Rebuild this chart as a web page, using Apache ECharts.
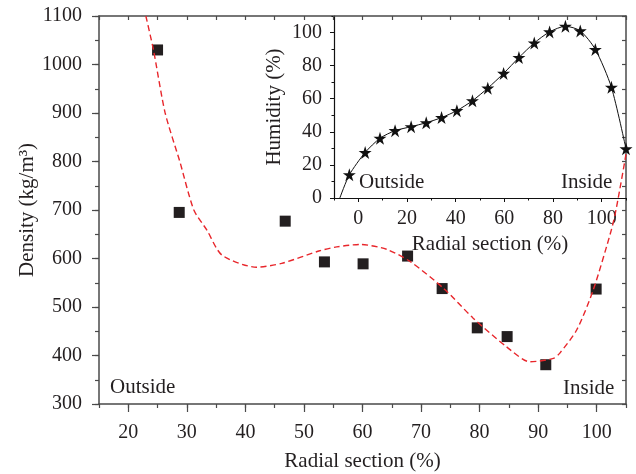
<!DOCTYPE html>
<html><head><meta charset="utf-8">
<script src="https://cdn.jsdelivr.net/npm/echarts@6/dist/echarts.min.js"></script>
<style>html,body{margin:0;padding:0;background:#fff}#c{width:636px;height:474px}</style>
</head><body><div id="c"></div>
<script>
// Main chart: measured density (squares)
const densityX = [25, 28.7, 46.8, 53.5, 60.1, 67.7, 73.6, 79.6, 84.7, 91.3, 99.9];
const densityY = [1030, 695, 677, 593, 589, 605, 538, 457, 439, 381, 537];
// Main chart: fitted trend (red dashed)
const fitX = [23.0, 24.3, 26.3, 28.8, 31.2, 33.4, 36.0, 41.9, 46.2, 52.7, 55.6, 59.6, 64.1, 68.1, 73.8, 78.9, 84.6, 88.6, 92.6, 93.7, 96.6, 99.4, 102.5, 103.4, 105.0];
const fitY = [1100, 1030, 900, 800, 700, 659, 607, 582, 590, 616, 624, 629, 619, 594, 539, 477, 418, 387, 394, 405, 453, 535, 659, 707, 815];
// Inset: humidity (stars)
const humX = [-7.6, -3.7, 2.8, 8.9, 15.1, 21.7, 27.9, 34.2, 40.5, 46.9, 53.2, 59.7, 66.0, 72.3, 78.6, 85.1, 91.2, 97.4, 104.0, 110.0];
const humY = [0, 14.0, 27.5, 36.1, 40.7, 43.1, 45.5, 48.6, 52.8, 58.8, 66.4, 75.3, 84.9, 93.7, 100.4, 103.8, 101.0, 89.8, 66.9, 29.7];
// Tick labels
const mainXTicks = [20, 30, 40, 50, 60, 70, 80, 90, 100];
const insetXTicks = [0, 20, 40, 60, 80, 100];
const insetYTicks = [0, 20, 40, 60, 80, 100];

const FONT = '"Liberation Serif", "DejaVu Serif", serif';
const TXT = '#231f20';
const AX = '#4a4a4a';
const STAR = 'path://M50,0 L61.2,34.5 L97.6,34.5 L68.2,55.9 L79.4,90.5 L50,69.1 L20.6,90.5 L31.8,55.9 L2.4,34.5 L38.8,34.5 Z';

const mainGrid = {left: 99, right: 10, top: 16, bottom: 70, outerBoundsMode: 'none', containLabel: false};
const insetGrid = {left: 334, right: 10, top: 16, bottom: 276, outerBoundsMode: 'none', containLabel: false};

const plain = (v) => String(v);
const lbl = (m) => ({color: TXT, fontFamily: FONT, fontSize: 20, margin: m, formatter: plain});
const nameStyle = {color: TXT, fontFamily: FONT, fontSize: 21};

const option = {
  animation: false,
  backgroundColor: '#fff',
  grid: [
    Object.assign({}, mainGrid),
    Object.assign({}, mainGrid),
    Object.assign({}, insetGrid),
    Object.assign({}, insetGrid)
  ],
  xAxis: [
    { // 0 main bottom
      type: 'value', gridIndex: 0, position: 'bottom', min: 15, max: 105,
      axisLine: {show: true, onZero: false, lineStyle: {color: AX, width: 1.5}},
      axisTick: {show: true, inside: false, length: 8, customValues: mainXTicks, lineStyle: {color: AX, width: 1.2}},
      axisLabel: Object.assign(lbl(19), {customValues: mainXTicks}),
      splitLine: {show: false},
      name: 'Radial section (%)', nameLocation: 'middle', nameGap: 47, nameTextStyle: nameStyle
    },
    { // 1 main top
      type: 'value', gridIndex: 0, position: 'top', min: 15, max: 105, interval: 5,
      axisLine: {show: true, onZero: false, lineStyle: {color: AX, width: 1.5}},
      axisTick: {show: true, inside: true, length: 4, lineStyle: {color: AX, width: 1.2}},
      axisLabel: {show: false}, splitLine: {show: false}
    },
    { // 2 main bottom minor
      type: 'value', gridIndex: 1, position: 'bottom', min: 15, max: 105, interval: 5,
      axisLine: {show: false, onZero: false},
      axisTick: {show: true, inside: false, length: 4, lineStyle: {color: AX, width: 1.2}},
      axisLabel: {show: false}, splitLine: {show: false}
    },
    { // 3 inset bottom
      type: 'value', gridIndex: 2, position: 'bottom', min: -10, max: 110,
      axisLine: {show: true, onZero: false, lineStyle: {color: '#111', width: 1.2}},
      axisTick: {show: true, inside: false, length: 4, customValues: insetXTicks, lineStyle: {color: '#111', width: 1}},
      axisLabel: Object.assign(lbl(11), {customValues: insetXTicks}),
      splitLine: {show: false},
      name: 'Radial section (%)', nameLocation: 'middle', nameGap: 36,
      nameTextStyle: Object.assign({}, nameStyle, {padding: [0, 0, 0, 20]})
    },
    { // 4 inset bottom minor
      type: 'value', gridIndex: 3, position: 'bottom', min: -10, max: 110, interval: 10,
      axisLine: {show: false, onZero: false},
      axisTick: {show: true, inside: false, length: 2.5, lineStyle: {color: '#111', width: 1}},
      axisLabel: {show: false}, splitLine: {show: false}
    }
  ],
  yAxis: [
    { // 0 main left
      type: 'value', gridIndex: 0, position: 'left', min: 300, max: 1100, interval: 100,
      axisLine: {show: true, onZero: false, lineStyle: {color: AX, width: 1.5}},
      axisTick: {show: true, inside: false, length: 7, lineStyle: {color: AX, width: 1.2}},
      axisLabel: lbl(17), splitLine: {show: false},
      name: 'Density (kg/m³)', nameLocation: 'middle', nameGap: 61, nameMoveOverlap: false, nameTextStyle: nameStyle
    },
    { // 1 main right
      type: 'value', gridIndex: 0, position: 'right', min: 300, max: 1100, interval: 50,
      axisLine: {show: true, onZero: false, lineStyle: {color: AX, width: 1.5}},
      axisTick: {show: true, inside: true, length: 4, lineStyle: {color: AX, width: 1.2}},
      axisLabel: {show: false}, splitLine: {show: false}
    },
    { // 2 main left minor
      type: 'value', gridIndex: 1, position: 'left', min: 300, max: 1100, interval: 50,
      axisLine: {show: false, onZero: false},
      axisTick: {show: true, inside: false, length: 4, lineStyle: {color: AX, width: 1.2}},
      axisLabel: {show: false}, splitLine: {show: false}
    },
    { // 3 inset left
      type: 'value', gridIndex: 2, position: 'left', min: 0, max: 110,
      axisLine: {show: true, onZero: false, lineStyle: {color: '#111', width: 1.2}},
      axisTick: {show: true, inside: false, length: 4, customValues: insetYTicks, lineStyle: {color: '#111', width: 1}},
      axisLabel: Object.assign(lbl(12), {customValues: insetYTicks}),
      splitLine: {show: false},
      name: 'Humidity (%)', nameLocation: 'middle', nameGap: 49, nameTextStyle: nameStyle
    },
    { // 4 inset left minor
      type: 'value', gridIndex: 3, position: 'left', min: 0, max: 110, interval: 10,
      axisLine: {show: false, onZero: false},
      axisTick: {show: true, inside: false, length: 2.5, lineStyle: {color: '#111', width: 1}},
      axisLabel: {show: false}, splitLine: {show: false}
    }
  ],
  series: [
    {
      type: 'line', xAxisIndex: 0, yAxisIndex: 0, clip: true,
      data: fitX.map((x, i) => [x, fitY[i]]),
      smooth: 0.25, symbol: 'none',
      lineStyle: {color: '#e8262b', width: 1.4, type: [6, 3.5]}
    },
    {
      type: 'scatter', xAxisIndex: 0, yAxisIndex: 0,
      data: densityX.map((x, i) => [x, densityY[i]]),
      symbol: 'rect', symbolSize: 11,
      itemStyle: {color: '#231f20', opacity: 1}
    },
    {
      type: 'line', xAxisIndex: 3, yAxisIndex: 3, clip: false,
      data: humX.map((x, i) => i === 0 ? {value: [x, humY[i]], symbol: 'none'} : [x, humY[i]]),
      smooth: 0.25, symbol: STAR, symbolSize: 13, showAllSymbol: true,
      lineStyle: {color: '#111', width: 1},
      itemStyle: {color: '#111', opacity: 1}
    }
  ],
  graphic: [
    {type: 'text', left: 110, top: 377, style: {text: 'Outside', fill: TXT, font: '21px ' + FONT}},
    {type: 'text', left: 563, top: 378, style: {text: 'Inside', fill: TXT, font: '21px ' + FONT}},
    {type: 'text', left: 359, top: 172, style: {text: 'Outside', fill: TXT, font: '21px ' + FONT}},
    {type: 'text', left: 561, top: 172, style: {text: 'Inside', fill: TXT, font: '21px ' + FONT}}
  ]
};
const chart = echarts.init(document.getElementById('c'), null, {renderer: 'canvas'});
chart.setOption(option);
</script></body></html>
